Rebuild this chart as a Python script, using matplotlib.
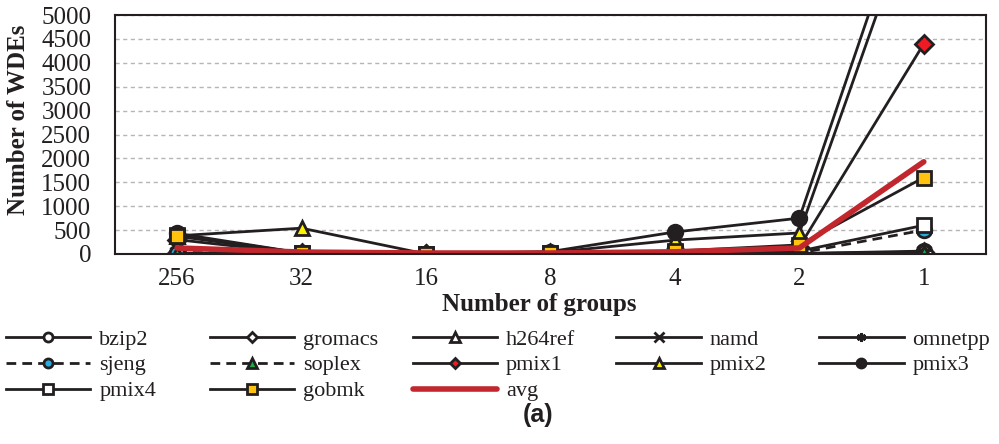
import matplotlib
matplotlib.use("Agg")
import matplotlib.pyplot as plt

groups = ["256", "32", "16", "8", "4", "2", "1"]

bzip2   = [10, 5, 0, 0, 5, 10, 60]
gromacs = [20, 5, 0, 0, 5, 10, 40]
h264ref = [5, 0, 0, 0, 0, 5, 10]
namd    = [5, 0, 0, 0, 0, 5, 10]
omnetpp = [5, 0, 0, 0, 0, 5, 20]
sjeng   = [30, 5, 0, 0, 5, 20, 500]
soplex  = [5, 0, 0, 0, 0, 5, 10]
pmix1   = [300, 10, 0, 10, 30, 150, 4400]
pmix2   = [380, 540, 0, 30, 290, 440, 7800]
pmix3   = [430, 20, 0, 50, 460, 750, 8400]
pmix4   = [400, 20, 0, 20, 40, 60, 600]
gobmk   = [370, 20, 0, 10, 60, 190, 1600]
avg     = [125, 40, 20, 20, 45, 125, 1930]

SERIF = ["Liberation Serif", "DejaVu Serif"]
plt.rcParams["font.family"] = SERIF

BLACK = "#231f20"
series = [
    ("bzip2",   bzip2,   dict(marker="o", mfc="white", ls="-")),
    ("gromacs", gromacs, dict(marker="D", mfc="white", ls="-")),
    ("h264ref", h264ref, dict(marker="^", mfc="white", ls="-")),
    ("namd",    namd,    dict(marker="x", mfc=BLACK, ls="-")),
    ("omnetpp", omnetpp, dict(marker=(6, 2, 0), mfc=BLACK, ls="-")),
    ("sjeng",   sjeng,   dict(marker="o", mfc="#29abe2", ls=(0, (3.5, 2.2)))),
    ("soplex",  soplex,  dict(marker="^", mfc="#1fa84a", ls=(0, (3.5, 2.2)))),
    ("pmix1",   pmix1,   dict(marker="D", mfc="#ed1c24", ls="-")),
    ("pmix2",   pmix2,   dict(marker="^", mfc="#fff200", ls="-")),
    ("pmix3",   pmix3,   dict(marker="o", mfc=BLACK, ls="-")),
    ("pmix4",   pmix4,   dict(marker="s", mfc="white", ls="-")),
    ("gobmk",   gobmk,   dict(marker="s", mfc="#ffc20e", ls="-")),
]

fig = plt.figure(figsize=(9.99, 4.44), dpi=100)
ax = fig.add_axes([0.115, 0.428, 0.872, 0.538])

x = list(range(len(groups)))
handles = []
for name, vals, st in series:
    ms = 9 if st["marker"] == "D" else 10.5
    h, = ax.plot(x, vals, color=BLACK, lw=2.0, linestyle=st["ls"],
                 marker=st["marker"], markersize=ms, markerfacecolor=st["mfc"],
                 markeredgecolor=BLACK, markeredgewidth=2.0, label=name)
    handles.append(h)
h, = ax.plot(x, avg, color="#c1272d", lw=4.0, solid_capstyle="round",
             label="avg")
handles.append(h)

ax.set_xlim(-0.5, 6.5)
ax.set_ylim(0, 5000)
ax.set_yticks(range(0, 5001, 500))
ax.set_xticks(x)
ax.set_xticklabels(groups)
ax.tick_params(axis="both", length=0, labelsize=18, colors=BLACK)
ax.tick_params(axis="y", pad=17)
ax.tick_params(axis="x", pad=10)
ax.yaxis.grid(True, color="#b5b5b5", linestyle=(0, (3, 2.5)), lw=1.0)
ax.set_axisbelow(True)
for sp in ax.spines.values():
    sp.set_color(BLACK)
    sp.set_linewidth(1.5)

fig.text(0.019, 0.73, "Number of WDEs", rotation=90, ha="center", va="center",
         fontsize=18, fontweight="bold", color=BLACK)
fig.text(0.54, 1 - 304 / 444, "Number of groups", ha="center", va="center",
         fontsize=18, fontweight="bold", color=BLACK)

# legend laid out as five fixed-width columns
col_x = [0.006, 0.210, 0.413, 0.617, 0.820]
for c in range(5):
    hs = handles[c::5]
    leg = fig.legend(handles=hs, labels=[hh.get_label() for hh in hs],
                     loc="upper left", bbox_to_anchor=(col_x[c], 1 - 329 / 444),
                     frameon=False, prop={"family": SERIF, "size": 16},
                     handlelength=3.8, handletextpad=0.4, labelspacing=0.24,
                     borderpad=0, borderaxespad=0, markerscale=0.62)
    for t in leg.get_texts():
        t.set_color(BLACK)

fig.text(0.539, 1 - 415 / 444, "(a)", ha="center", va="center",
         fontsize=18, fontweight="bold", family="Liberation Sans", color=BLACK)

fig.savefig("out.png", dpi=100)
